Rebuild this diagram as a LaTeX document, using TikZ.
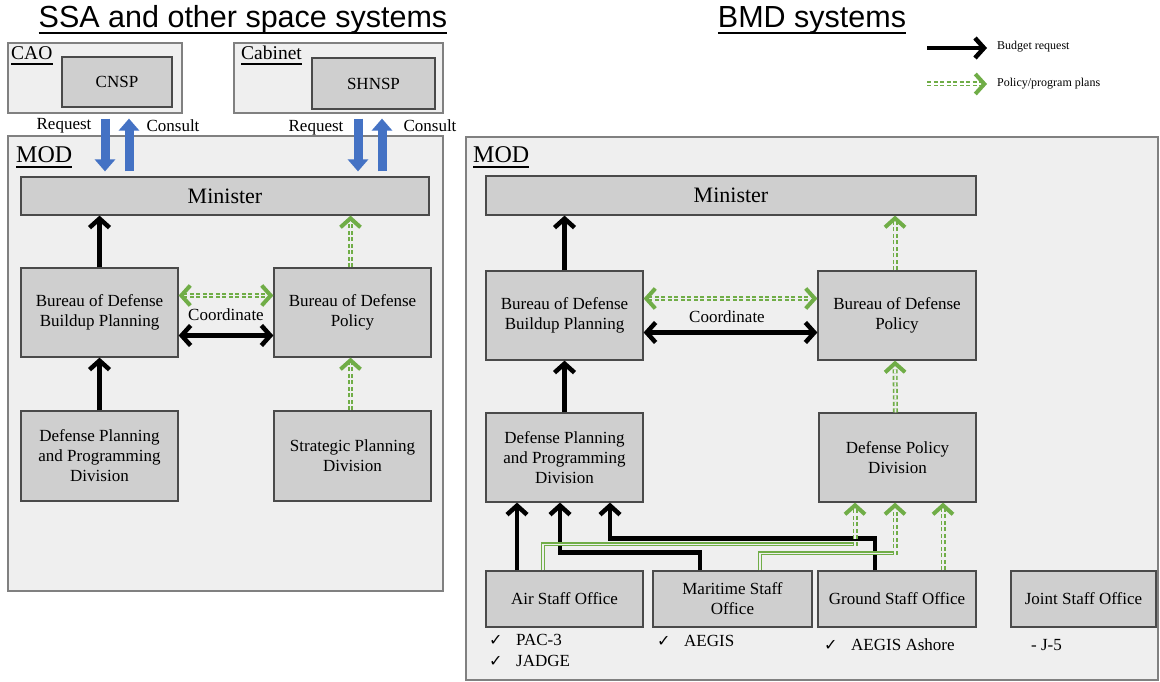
\documentclass[tikz,border=0pt]{standalone}
\usepackage{fontspec}
\setmainfont{Liberation Serif}
\newfontfamily\titlefont{Liberation Sans}
\newfontfamily\symfont{DejaVu Sans}
\usetikzlibrary{arrows.meta}
\definecolor{panelbg}{HTML}{EFEFEF}
\definecolor{panelline}{HTML}{808080}
\definecolor{boxbg}{HTML}{CFCFCF}
\definecolor{boxline}{HTML}{4A4A4A}
\definecolor{reqblue}{HTML}{4472C4}
\definecolor{plangreen}{HTML}{70AD47}
\newcommand{\chk}{\makebox[27pt][l]{\symfont\fontsize{16}{16}\selectfont ✓}}
\tikzset{
  panel/.style={draw=panelline, fill=panelbg, line width=1.2pt, inner sep=0pt},
  unit/.style={draw=boxline, fill=boxbg, line width=1.2pt, align=center, inner sep=0pt, font=\fontsize{17}{20}\selectfont},
  txt/.style={inner sep=0pt, font=\fontsize{17}{20}\selectfont},
  head/.style={inner sep=0pt, anchor=base west},
  ul/.style={line width=1.4pt},
  blacktip/.tip={Straight Barb[length=9pt,width=20pt]},
  budget/.style={line width=4.5pt, -blacktip},
  budgetboth/.style={line width=4.5pt, blacktip-blacktip},
  greentip/.tip={Straight Barb[length=9pt,width=20pt,line width=4pt]},
  plan/.style={draw=plangreen, double=panelbg, double distance=1.8pt, line width=1.6pt, dash pattern=on 4pt off 2.5pt, -greentip},
  planboth/.style={plan, greentip-greentip},
  route/.style={draw=plangreen, double=panelbg, double distance=1.6pt, line width=1.2pt},
  ask/.style={reqblue, line width=9pt, shorten <=5pt, shorten >=5pt, -{Triangle[length=12pt,width=20pt]}}
}
\begin{document}
\begin{tikzpicture}[x=1pt,y=-1pt]
\useasboundingbox (0,0) rectangle (1160,682);

\node[inner sep=0pt, anchor=base, font=\titlefont\fontsize{30.5}{32}\selectfont] (ttl1) at (243,28) {SSA and other space systems};
\node[inner sep=0pt, anchor=base, font=\titlefont\fontsize{30.5}{32}\selectfont] (ttl2) at (812,28) {BMD systems};
\draw[ul] ([yshift=-5pt]ttl1.base west) -- ([yshift=-5pt]ttl1.base east);
\draw[ul] ([yshift=-5pt]ttl2.base west) -- ([yshift=-5pt]ttl2.base east);

% legend
\coordinate (lgA) at (927,48);
\coordinate (lgB) at (987,48);
\coordinate (lgC) at (927,84);
\coordinate (lgD) at (987,84);
\draw[budget] (lgA) -- (lgB);
\draw[plan, double=white] (lgC) -- (lgD);
\node[inner sep=0pt, anchor=west, font=\fontsize{12}{14}\selectfont] (lgt1) at (997,47) {Budget request};
\node[inner sep=0pt, anchor=west, font=\fontsize{12}{14}\selectfont] (lgt2) at (997,84) {Policy/program plans};

% SSA side
\node[panel, minimum width=174, minimum height=70] (cao) at (95,78) {};
\node[panel, minimum width=209, minimum height=70] (cab) at (338.5,78) {};
\node[panel, minimum width=435, minimum height=455] (mod1) at (225.5,363.5) {};
\node[head, font=\fontsize{19.5}{20}\selectfont] (caot) at (11,60) {CAO};
\node[head, font=\fontsize{19.5}{20}\selectfont] (cabt) at (241,60) {Cabinet};
\node[head, font=\fontsize{24}{26}\selectfont] (mod1t) at (16,163) {MOD};
\draw[ul] ([yshift=-4pt]caot.base west) -- ([yshift=-4pt]caot.base east);
\draw[ul] ([yshift=-4pt]cabt.base west) -- ([yshift=-4pt]cabt.base east);
\draw[ul] ([yshift=-4pt]mod1t.base west) -- ([yshift=-4pt]mod1t.base east);

\node[unit, minimum width=110, minimum height=50] (cnsp) at (117,82) {CNSP};
\node[unit, minimum width=123, minimum height=51] (shnsp) at (373.5,83.5) {SHNSP};
\node[unit, minimum width=408, minimum height=38, font=\fontsize{22}{24}\selectfont] (min1) at (225,196) {Minister};
\node[unit, minimum width=157, minimum height=89] (bbp1) at (99.5,312.5) {Bureau of Defense\\Buildup Planning};
\node[unit, minimum width=157, minimum height=89] (bdp1) at (352.5,312.5) {Bureau of Defense\\Policy};
\node[unit, minimum width=157, minimum height=90] (dpp1) at (99.5,456) {Defense Planning\\and Programming\\Division};
\node[unit, minimum width=157, minimum height=90] (spd) at (352.5,456) {Strategic Planning\\Division};

\draw[ask] ([xshift=10pt]cao.south) -- ([xshift=10pt]cao.south |- min1.north);
\draw[ask] ([xshift=34pt]cao.south |- min1.north) -- ([xshift=34pt]cao.south);
\draw[ask] ([xshift=19.5pt]cab.south) -- ([xshift=19.5pt]cab.south |- min1.north);
\draw[ask] ([xshift=43.5pt]cab.south |- min1.north) -- ([xshift=43.5pt]cab.south);
\node[txt] (req1) at (64,126) {Request};
\node[txt] (con1) at (173,126) {Consult};
\node[txt] (req2) at (316,128) {Request};
\node[txt] (con2) at (430,126) {Consult};

\draw[budget] (bbp1.north) -- (bbp1.north |- min1.south);
\draw[budget] (dpp1.north) -- (bbp1.south);
\draw[plan] ([xshift=-2pt]bdp1.north) -- ([xshift=-2pt]bdp1.north |- min1.south);
\draw[plan] ([xshift=-2pt]spd.north) -- ([xshift=-2pt]bdp1.south);
\draw[planboth] ([yshift=17pt]bbp1.east) -- ([yshift=17pt]bdp1.west);
\draw[budgetboth] ([yshift=-23pt]bbp1.east) -- ([yshift=-23pt]bdp1.west);
\node[txt] (crd1) at (226,315) {Coordinate};

% BMD side
\node[panel, minimum width=692, minimum height=543] (mod2) at (812,408.5) {};
\node[head, font=\fontsize{24}{26}\selectfont] (mod2t) at (473,163) {MOD};
\draw[ul] ([yshift=-4pt]mod2t.base west) -- ([yshift=-4pt]mod2t.base east);

\node[unit, minimum width=490, minimum height=39, font=\fontsize{22}{24}\selectfont] (min2) at (731,195.5) {Minister};
\node[unit, minimum width=157, minimum height=89] (bbp2) at (564.5,315.5) {Bureau of Defense\\Buildup Planning};
\node[unit, minimum width=158, minimum height=89] (bdp2) at (897,315.5) {Bureau of Defense\\Policy};
\node[unit, minimum width=157, minimum height=89] (dpp2) at (564.5,457.5) {Defense Planning\\and Programming\\Division};
\node[unit, minimum width=157, minimum height=89] (dpd) at (897.5,457.5) {Defense Policy\\Division};
\node[unit, minimum width=157, minimum height=56] (air) at (564.5,599) {Air Staff Office};
\node[unit, minimum width=159, minimum height=56] (mar) at (732.5,599) {Maritime Staff\\Office};
\node[unit, minimum width=158, minimum height=56] (gnd) at (897,599) {Ground Staff Office};
\node[unit, minimum width=145, minimum height=56] (jnt) at (1083.5,599) {Joint Staff Office};

\draw[budget] (bbp2.north) -- (bbp2.north |- min2.south);
\draw[budget] (dpp2.north) -- (bbp2.south);
\draw[plan] ([xshift=-2pt]bdp2.north) -- ([xshift=-2pt]bdp2.north |- min2.south);
\draw[plan] ([xshift=-2pt]dpd.north) -- ([xshift=-2pt]bdp2.south);
\draw[planboth] ([yshift=17pt]bbp2.east) -- ([yshift=17pt]bdp2.west);
\draw[budgetboth] ([yshift=-17pt]bbp2.east) -- ([yshift=-17pt]bdp2.west);
\node[txt] (crd2) at (727,317) {Coordinate};

\draw[budget] ([xshift=-47.5pt]air.north) -- ([xshift=-47.5pt]air.north |- dpp2.south);
\draw[budget] ([xshift=-32.5pt]mar.north) -- ++(0,-18) -| ([xshift=-4.5pt]dpp2.south);
\draw[budget] ([xshift=-22pt]gnd.north) -- ++(0,-32) -| ([xshift=45.5pt]dpp2.south);
\draw[route] ([xshift=-21.5pt]air.north) -- ++(0,-26) -| ([xshift=-42.5pt,yshift=-43pt]dpd.south);
\draw[plan] ([xshift=-42.5pt,yshift=-43pt]dpd.south) -- ([xshift=-42.5pt]dpd.south);
\draw[route] ([xshift=27.5pt]mar.north) -- ++(0,-17) -| ([xshift=-2.5pt,yshift=-52pt]dpd.south);
\draw[plan] ([xshift=-2.5pt,yshift=-52pt]dpd.south) -- ([xshift=-2.5pt]dpd.south);
\draw[plan] ([xshift=46pt]gnd.north) -- ([xshift=46pt]gnd.north |- dpd.south);

\node[txt, anchor=west] (pac) at (489,640) {\chk PAC-3};
\node[txt, anchor=west] (jadge) at (489,661) {\chk JADGE};
\node[txt, anchor=west] (aegis) at (657,641) {\chk AEGIS};
\node[txt, anchor=west] (ashore) at (824,645) {\chk AEGIS Ashore};
\node[txt, anchor=west] (j5) at (1031,645) {- J-5};
\end{tikzpicture}
\end{document}
